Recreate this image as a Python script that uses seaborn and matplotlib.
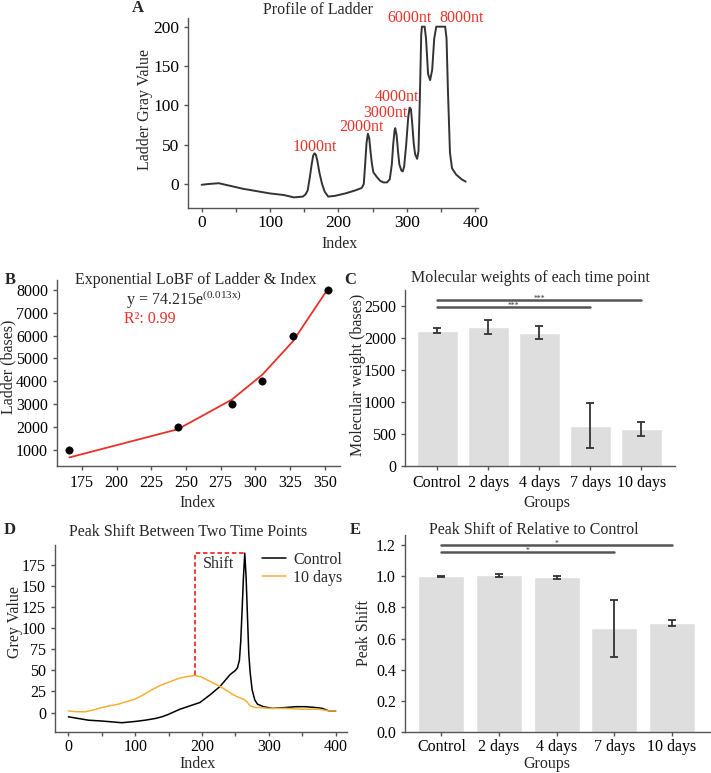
import numpy as np
import pandas as pd
import seaborn as sns
import matplotlib.pyplot as plt
from matplotlib.ticker import MultipleLocator

# ================================
# Data
# ================================

# Panel A - ladder lane profile
ladder_index = [0, 10, 25, 40, 60, 80, 100, 120, 135, 148,
                152, 155, 158, 161, 163, 165, 167, 169, 172, 176,
                180, 185, 195, 210, 225, 234, 237, 239, 241, 243,
                245, 247, 249, 251, 256, 261, 266, 271, 275, 278,
                280, 282, 283, 285, 287, 289, 292, 294, 296, 299,
                302, 304, 306, 308, 310, 312, 315, 317, 319, 321,
                322, 326, 328, 331, 334, 337, 340, 343, 356, 358,
                360, 363, 366, 372, 380, 386]
ladder_gray = [-1, 0, 1, -2, -6, -9, -12, -14, -17, -16,
               -13, -8, 8, 26, 36, 39, 37, 30, 15, 0,
               -10, -16, -15, -12, -8, -5, 0, 25, 52, 64,
               58, 40, 25, 15, 9, 4, 2, 2, 6, 25,
               50, 68, 71, 62, 42, 25, 17, 16, 22, 50,
               85, 97, 95, 75, 52, 38, 32, 42, 110, 190,
               200, 200, 185, 140, 132, 145, 185, 200, 200, 185,
               120, 40, 20, 12, 6, 3]
band_names = ["1000nt", "2000nt", "3000nt", "4000nt", "6000nt", "8000nt"]

# Panel B - ladder peaks vs size, and the exponential fit line
peak_index = [166, 244, 283, 305, 327, 352]
ladder_bases = [1000, 2000, 3000, 4000, 6000, 8000]
fit_bases = [675, 1905, 3200, 4290, 5745, 8015]

# Panel C / E - groups
groups = ["Control", "2 days", "4 days", "7 days", "10 days"]
mw_mean = [2115, 2165, 2085, 630, 580]
mw_err = [35, 110, 103, 353, 108]
mw_sig_pairs = [(0, 4), (0, 3)]
mw_sig_height = [2590, 2490]
mw_sig_label = ["***", "***"]

shift_mean = [1.0, 1.005, 0.993, 0.665, 0.70]
shift_err = [0.002, 0.008, 0.008, 0.183, 0.02]
shift_sig_pairs = [(0, 4), (0, 3)]
shift_sig_height = [1.198, 1.154]
shift_sig_label = ["*", "*"]

# Panel D - two lane profiles
ctrl_x = [0, 15, 30, 50, 65, 80, 100, 115, 130, 140,
          150, 167, 182, 197, 212, 227, 242, 250, 253, 256,
          258, 260, 262, 264, 266, 268, 270, 272, 275, 279,
          283, 292, 305, 325, 340, 355, 370, 380, 390, 400]
ctrl_y = [-5, -7, -9, -10, -11, -12, -10.5, -9, -7, -5,
          -2, 4, 8, 12, 21, 31, 45, 50, 53, 62,
          85, 121, 160, 189, 160, 115, 70, 48, 27, 15,
          10, 7, 5, 6, 7, 7, 6, 5, 2, 2]
days_x = [0, 12, 25, 37, 50, 62, 75, 87, 100, 112,
          125, 137, 150, 167, 180, 190, 200, 207, 217, 227,
          237, 247, 255, 262, 267, 272, 280, 287, 300, 325,
          350, 375, 390, 400]
days_y = [2, 1, 1, 3, 6, 8, 10, 13, 16, 21,
          27, 32, 36, 41, 43, 44, 42, 39, 35, 31,
          26, 21, 18, 16, 13, 8, 6, 6, 5, 5,
          4, 4, 2, 2]

# ================================
# Style
# ================================

sns.set_theme(style="ticks")
plt.rcParams["font.family"] = ["Liberation Serif", "DejaVu Serif"]
plt.rcParams["mathtext.fontset"] = "custom"
plt.rcParams["mathtext.rm"] = "Liberation Serif"
plt.rcParams["font.size"] = 11.5
plt.rcParams["axes.labelsize"] = 11.5
plt.rcParams["xtick.labelsize"] = 11.5
plt.rcParams["ytick.labelsize"] = 11.5
plt.rcParams["legend.fontsize"] = 11.5
plt.rcParams["axes.edgecolor"] = "#555555"
plt.rcParams["axes.linewidth"] = 1.0
plt.rcParams["xtick.color"] = "#555555"
plt.rcParams["ytick.color"] = "#555555"
plt.rcParams["xtick.labelcolor"] = "black"
plt.rcParams["ytick.labelcolor"] = "black"

RED = "#e8312a"
BAR = "#dedede"
W, H = 711, 773


def px_axes(left, top, right, bottom):
    return [left / W, 1 - bottom / H, (right - left) / W, (bottom - top) / H]


fig = plt.figure(figsize=(W / 100, H / 100), dpi=100)

axA = fig.add_axes(px_axes(188, 18, 478, 208))
axB = fig.add_axes(px_axes(57, 280, 340, 466))
axC = fig.add_axes(px_axes(405, 290, 675, 466))
axD = fig.add_axes(px_axes(55, 545, 347, 732))
axE = fig.add_axes(px_axes(405, 535, 710, 732))

for ax in [axA, axB, axC, axD, axE]:
    sns.despine(ax=ax)
    ax.tick_params(which="both", length=3, width=1)
for ax in [axA, axD, axE]:
    ax.tick_params(axis="x", pad=2)


def label_axes(ax, title, tpos, xlabel, xpos, ylabel, ypos, xva="center"):
    ax.text(tpos[0], tpos[1], title, transform=ax.transAxes,
            ha="center", va="center", fontsize=11.5)
    ax.set_xlabel(xlabel)
    ax.set_ylabel(ylabel)
    ax.xaxis.set_label_coords(*xpos)
    ax.yaxis.set_label_coords(*ypos)
    ax.xaxis.label.set_va(xva)
    ax.yaxis.label.set_va("center")


# ================================
# A - Profile of Ladder
# ================================

sns.lineplot(x=ladder_index, y=ladder_gray, ax=axA, color="#333333",
             linewidth=1.4, sort=False)
axA.set_xlim(-20, 404)
axA.set_ylim(-30.5, 211)
axA.xaxis.set_major_locator(MultipleLocator(100))
axA.xaxis.set_minor_locator(MultipleLocator(50))
axA.yaxis.set_major_locator(MultipleLocator(50))
axA.tick_params(labelsize=12.5)

band_label_pos = [(165.6, 47), (233, 72.5), (268, 90), (285.5, 110.6),
                  (304.5, 211), (380.6, 211)]
for name, (bx, by) in zip(band_names, band_label_pos):
    axA.text(bx, by, name, color=RED, ha="center", va="center",
             fontsize=11.5, clip_on=False)

label_axes(axA, "Profile of Ladder", (0.448, 1.042),
           "Index", (0.524, -0.147), "Ladder Gray Value", (-0.148, 0.516),
           xva="top")

# ================================
# B - Exponential fit
# ================================

sns.lineplot(x=peak_index, y=fit_bases, ax=axB, color=RED, linewidth=1.3)
sns.scatterplot(x=peak_index, y=ladder_bases, ax=axB, color="black",
                s=28, edgecolor="black", zorder=3)
axB.set_xlim(157, 361)
axB.set_ylim(300, 8430)
axB.xaxis.set_major_locator(MultipleLocator(25))
axB.yaxis.set_major_locator(MultipleLocator(1000))
axB.text(0.244, 0.892, r"y = 74.215e$^{\mathrm{(0.013x)}}$",
         transform=axB.transAxes, ha="left", va="center")
axB.text(0.237, 0.790, "R²: 0.99", color=RED,
         transform=axB.transAxes, ha="left", va="center")

label_axes(axB, "Exponential LoBF of Ladder & Index", (0.491, 1.0),
           "Index", (0.498, -0.199), "Ladder (bases)", (-0.173, 0.532))


# ================================
# C / E - bar charts
# ================================

def bar_panel(ax, means, errs, pairs, heights, marks):
    df = pd.DataFrame({"Groups": groups, "value": means})
    sns.barplot(data=df, x="Groups", y="value", ax=ax, color=BAR,
                saturation=1, width=0.8, errorbar=None)
    ax.errorbar(range(len(means)), means, yerr=errs, fmt="none",
                ecolor="#333333", elinewidth=1.3, capsize=3, capthick=1.3)
    for (i, j), h, m in zip(pairs, heights, marks):
        ax.plot([i, j], [h, h], color="#555555", linewidth=1.8)
        ax.annotate(m, xy=((i + j) / 2, h), xytext=(0, 0.8),
                    textcoords="offset points", ha="center", va="center",
                    fontsize=5.5, color="#333333")
    ax.set_xlim(-0.63, 4.66)


bar_panel(axC, mw_mean, mw_err, mw_sig_pairs, mw_sig_height, mw_sig_label)
axC.set_ylim(0, 2750)
axC.yaxis.set_major_locator(MultipleLocator(500))
label_axes(axC, "Molecular weights of each time point", (0.463, 1.068),
           "Groups", (0.526, -0.21), "Molecular weight (bases)",
           (-0.174, 0.517))

bar_panel(axE, shift_mean, shift_err, shift_sig_pairs, shift_sig_height,
          shift_sig_label)
axE.set_ylim(0, 1.265)
axE.yaxis.set_major_locator(MultipleLocator(0.2))
label_axes(axE, "Peak Shift of Relative to Control", (0.423, 1.025),
           "Groups", (0.466, -0.122), "Peak Shift", (-0.134, 0.5),
           xva="top")

# ================================
# D - Peak shift profiles
# ================================

sns.lineplot(x=ctrl_x, y=ctrl_y, ax=axD, color="black", linewidth=1.1,
             label="Control")
sns.lineplot(x=days_x, y=days_y, ax=axD, color="#f2b134", linewidth=1.1,
             label="10 days")
axD.set_xlim(-20, 417)
axD.set_ylim(-23, 198.6)
axD.xaxis.set_major_locator(MultipleLocator(100))
axD.xaxis.set_minor_locator(MultipleLocator(50))
axD.yaxis.set_major_locator(MultipleLocator(25))

# shift bracket from the 10 days peak to the control peak
i_days = int(np.argmax(days_y))
i_ctrl = int(np.argmax(ctrl_y))
x0, y0 = days_x[i_days], days_y[i_days]
x1, y1 = ctrl_x[i_ctrl], ctrl_y[i_ctrl]
axD.plot([x0, x0, x1], [y0, y1, y1], color=RED, linestyle="--",
         dashes=(2.5, 1.5), linewidth=1.3)
axD.text(x0 + 12, y1 - 13, "Shift", ha="left", va="center")

axD.legend(frameon=False, loc="upper right", bbox_to_anchor=(0.985, 0.965),
           handlelength=1.5, handletextpad=0.45, labelspacing=0.15,
           borderpad=0, borderaxespad=0)

label_axes(axD, "Peak Shift Between Two Time Points", (0.456, 1.068),
           "Index", (0.49, -0.128), "Grey Value", (-0.137, 0.589),
           xva="top")

# ================================
# Panel letters
# ================================

for letter, (lx, ly) in zip("ABCDE", [(138, 8), (10, 280), (350, 280),
                                      (10, 530), (355, 530)]):
    fig.text(lx / W, 1 - ly / H, letter, fontweight="bold", fontsize=12,
             ha="center", va="center")

fig.savefig("out.png", dpi=100)
